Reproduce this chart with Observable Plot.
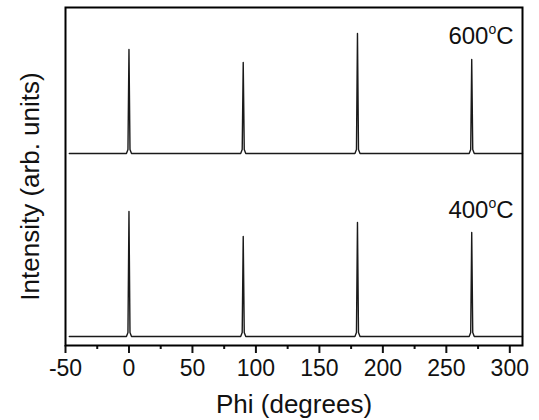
<!DOCTYPE html>
<html>
<head>
<meta charset="utf-8">
<script src="https://cdn.jsdelivr.net/npm/d3@7"></script>
<script src="https://cdn.jsdelivr.net/npm/@observablehq/plot@0.6"></script>
<style>
  html, body { margin: 0; padding: 0; background: #fff; }
  #chart { width: 539px; height: 420px; }
</style>
</head>
<body>
<div id="chart"></div>
<script>
// Phi scan positions (degrees) of the trace points
const phi = [-47, -2, -0.8, 0, 0.8, 2, 88, 89.2, 90, 90.8, 92, 178, 179.2, 180, 180.8, 182, 268, 269.2, 270, 270.8, 272, 310];
// Intensity (arb. units, offset traces)
const int600 = [192, 192, 196, 296, 196, 192, 192, 196, 283, 196, 192, 192, 196, 312, 196, 192, 192, 196, 286, 196, 192, 192];
const int400 = [9, 9, 13, 134, 13, 9, 9, 13, 109, 13, 9, 9, 13, 123, 13, 9, 9, 13, 113, 13, 9, 9];
const labels = [
  {name: "600", unit: "C", x: 303, y: 308.7},
  {name: "400", unit: "C", x: 303, y: 134.7}
];
const majorTicks = [-50, 0, 50, 100, 150, 200, 250, 300];
const minorTicks = [-25, 25, 75, 125, 175, 225, 275];

const rows600 = phi.map((p, i) => ({phi: p, v: int600[i]}));
const rows400 = phi.map((p, i) => ({phi: p, v: int400[i]}));

const font = "'Liberation Sans', Arial, sans-serif";

const chart = Plot.plot({
  width: 539,
  height: 420,
  marginLeft: 65,
  marginRight: 17,
  marginTop: 7,
  marginBottom: 75,
  style: {fontFamily: font, fontSize: "23px", color: "#111", background: "#fff"},
  x: {domain: [-50, 310]},
  y: {domain: [0, 338], axis: null},
  marks: [
    Plot.line(rows600, {x: "phi", y: "v", stroke: "#1a1a1a", strokeWidth: 1.4}),
    Plot.line(rows400, {x: "phi", y: "v", stroke: "#1a1a1a", strokeWidth: 1.4}),
    Plot.axisX({ticks: minorTicks, tickSize: 4, label: null, strokeWidth: 2, text: null}),
    Plot.axisX({ticks: majorTicks, tickSize: 8, tickPadding: 6, label: null, strokeWidth: 2, tickFormat: d => String(d), fontSize: 23}),
    Plot.frame({stroke: "#000", strokeWidth: 2}),
    Plot.text(labels, {x: "x", y: "y", text: "name", textAnchor: "end", lineAnchor: "middle", fontSize: 24, className: "templabel"}),
    Plot.text(["Phi (degrees)"], {frameAnchor: "bottom", dy: 58.7, textAnchor: "middle", lineAnchor: "middle", fontSize: 26}),
    Plot.text(["Intensity (arb. units)"], {frameAnchor: "left", dx: -35, dy: 10, rotate: -90, textAnchor: "middle", lineAnchor: "middle", fontSize: 26})
  ]
});

// tick label size
d3.select(chart).selectAll('g[aria-label*="tick label"]').attr("font-size", 23).style("font-size", "23px");
d3.select(chart).selectAll('g[aria-label*="tick label"] text').style("font-size", "23px");

// superscript "o" in temperature labels
d3.select(chart).selectAll("g.templabel text").each(function(d, i) {
  const t = d3.select(this);
  const lab = labels[i];
  t.text(null);
  t.append("tspan").text(lab.name);
  t.append("tspan").attr("dy", "-10px").attr("font-size", "14px").text("o");
  t.append("tspan").attr("dy", "10px").text(lab.unit);
});

document.getElementById("chart").appendChild(chart);
</script>
</body>
</html>
